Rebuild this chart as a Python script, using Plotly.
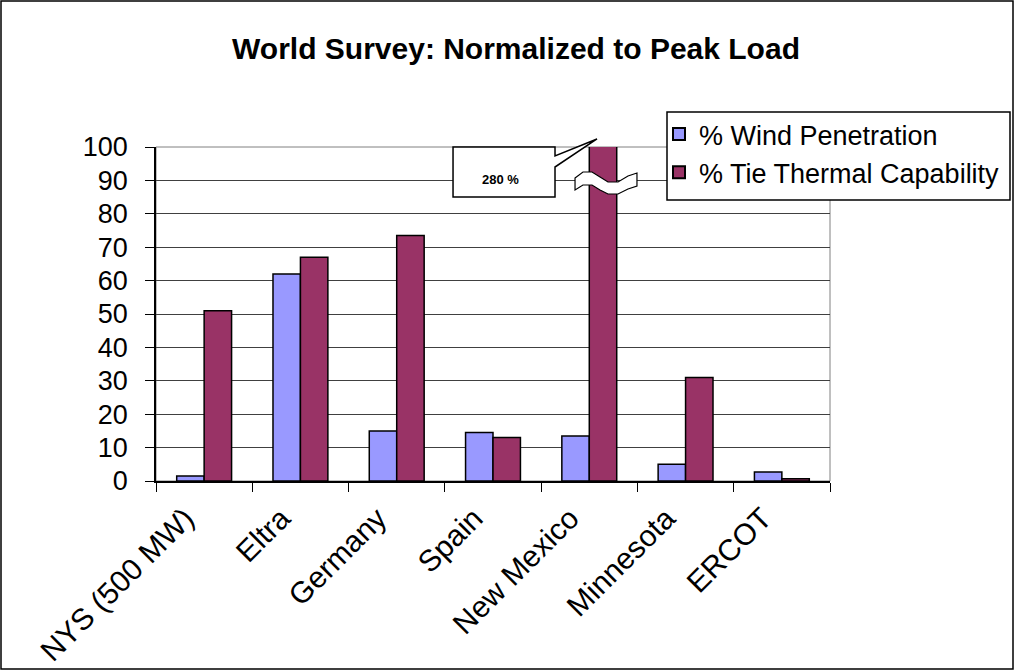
import plotly.graph_objects as go

# data
regions = ['NYS (500 MW)', 'Eltra', 'Germany', 'Spain', 'New Mexico', 'Minnesota', 'ERCOT']
wind_pen = [1.5, 62, 15, 14.5, 13.5, 5, 2.7]
tie_thermal = [51, 67, 73.5, 13, 280, 31, 0.7]
y_ticks = [0, 10, 20, 30, 40, 50, 60, 70, 80, 90, 100]

W, H = 1015, 671
L, R, T, B = 156, 830, 147, 481  # plot area in pixels


def px(x, y):
    """pixel position -> paper coordinates"""
    return (x - L) / (R - L), (B - y) / (B - T)


def path(points, close=True):
    s = ''
    for i, (x, y) in enumerate(points):
        a, b = px(x, y)
        s += ('M' if i == 0 else 'L') + f'{a:.4f},{b:.4f} '
    return s + ('Z' if close else '')


fig = go.Figure()
fig.add_trace(go.Bar(
    x=regions, y=wind_pen, name='% Wind Penetration',
    marker=dict(color='#9999FF', line=dict(color='black', width=1.5)),
))
fig.add_trace(go.Bar(
    x=regions, y=tie_thermal, name='% Tie Thermal Capability',
    marker=dict(color='#993366', line=dict(color='black', width=1.5)),
))

shapes = []
# outer frame of the picture
x0, y0 = px(1, 1)
x1, y1 = px(W - 2, H - 2)
shapes.append(dict(type='rect', xref='paper', yref='paper', x0=x0, y0=y1, x1=x1, y1=y0,
                   line=dict(color='black', width=1.5), layer='below'))
# plot area border (grey)
shapes.append(dict(type='rect', xref='paper', yref='paper', x0=0, y0=0, x1=1, y1=1,
                   line=dict(color='#808080', width=1), layer='below'))

# callout box with wedge pointing at the top of the New Mexico bar
shapes.append(dict(type='path', xref='paper', yref='paper',
                   path=path([(453, 147), (555, 147), (555, 156), (597, 139), (555, 167),
                              (555, 197), (453, 197)]),
                   fillcolor='white', line=dict(color='black', width=1.5)))

# break symbol across the clipped bar
def ribbon():
    pts_top = [(575, 178), (583, 172), (592, 172), (600, 177), (608, 182), (618, 182), (628, 176), (637, 173)]
    pts_bot = [(637, 186), (628, 189), (618, 194), (608, 194), (600, 190), (592, 185), (583, 185), (575, 190)]
    return path(pts_top + pts_bot)


shapes.append(dict(type='path', xref='paper', yref='paper', path=ribbon(),
                   fillcolor='white', line=dict(color='black', width=1.2)))

# legend frame
lx0, ly0 = px(667, 112)
lx1, ly1 = px(1010, 200)
shapes.append(dict(type='rect', xref='paper', yref='paper', x0=lx0, y0=ly1, x1=lx1, y1=ly0,
                   fillcolor='white', line=dict(color='black', width=1.5), layer='above'))

cx, cy = px(500, 170)
annotations = [dict(text='<b>280 %</b>', xref='paper', yref='paper', x=cx, y=cy,
                    showarrow=False, font=dict(size=13, color='black'))]

fig.update_layout(
    width=W, height=H,
    margin=dict(l=L, r=W - R, t=T, b=H - B, autoexpand=False),
    paper_bgcolor='white', plot_bgcolor='white',
    font=dict(family='Liberation Sans, Arial, sans-serif', color='black'),
    title=dict(text='<b>World Survey: Normalized to Peak Load</b>', x=516 / W, xanchor='center',
               y=1 - 48 / H, yanchor='middle', font=dict(size=30)),
    barmode='group', bargap=0.43, bargroupgap=0,
    xaxis=dict(
        tickangle=-45, tickfont=dict(size=30), showline=True, linecolor='black', linewidth=1.5,
        ticks='outside', tickson='boundaries', ticklen=9, tickcolor='black', showgrid=False,
        automargin=False, ticklabelshift=-19, ticklabelstandoff=6,
    ),
    yaxis=dict(
        range=[0, 100], tickvals=y_ticks, tickfont=dict(size=27), ticklabelstandoff=12,
        showline=True, linecolor='black', linewidth=1.5,
        ticks='outside', ticklen=9, tickcolor='black',
        showgrid=True, gridcolor='#404040', gridwidth=1, zeroline=False, automargin=False,
    ),
    legend=dict(
        x=px(659, 0)[0], y=px(0, 110)[1], xanchor='left', yanchor='top',
        borderwidth=0, bgcolor='rgba(0,0,0,0)',
        font=dict(size=27), itemsizing='constant', tracegroupgap=0,
    ),
    shapes=shapes,
    annotations=annotations,
    showlegend=True,
)

fig.write_html('out.html', post_script="document.body.style.margin='0';",
               config={'displayModeBar': False})
